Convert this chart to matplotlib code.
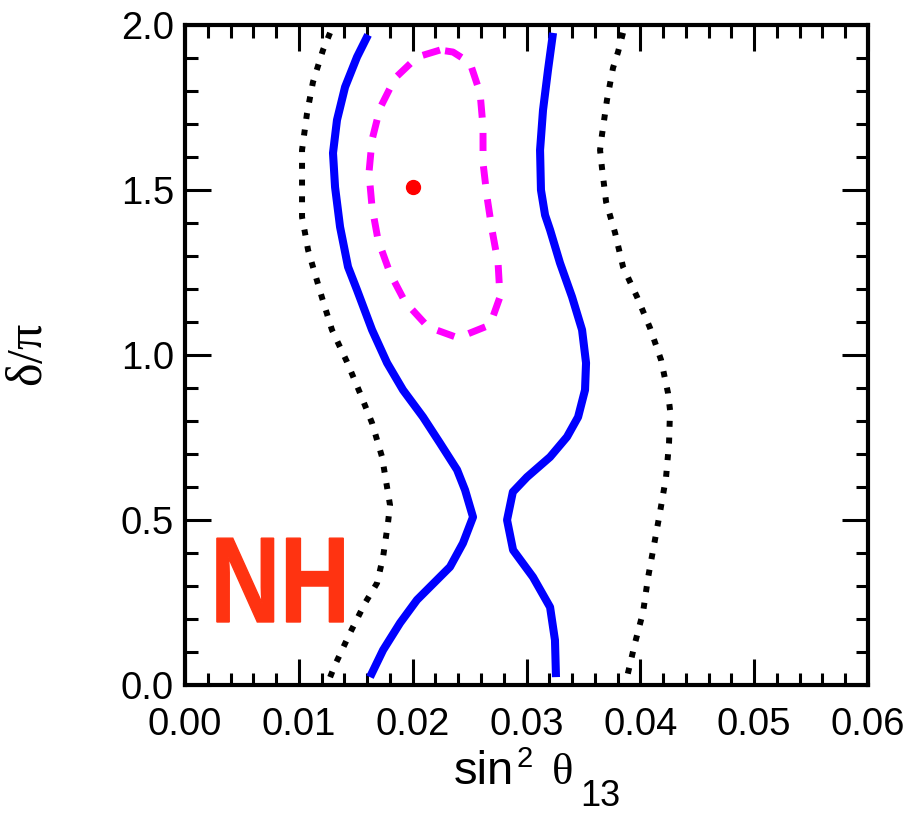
import matplotlib
matplotlib.use("Agg")
import matplotlib.pyplot as plt
from matplotlib.ticker import MultipleLocator
from matplotlib.textpath import TextPath
from matplotlib.patches import PathPatch
from matplotlib.font_manager import FontProperties
from matplotlib.transforms import Affine2D

plt.rcParams['font.family'] = ['Liberation Sans', 'DejaVu Sans']
plt.rcParams['mathtext.fontset'] = 'custom'
plt.rcParams['mathtext.it'] = 'Liberation Serif'
plt.rcParams['mathtext.rm'] = 'Liberation Serif'
plt.rcParams['mathtext.sf'] = 'Liberation Sans'

# 1 sigma (dashed magenta, closed)
mag_x = [0.0224, 0.0204, 0.01845, 0.01713, 0.01643, 0.01616, 0.01643, 0.01696, 0.01801,
         0.01933, 0.02135, 0.02398, 0.02679, 0.02767, 0.0275, 0.02697, 0.02653, 0.02618,
         0.02618, 0.02592, 0.02504, 0.02354, 0.0224]
mag_y = [1.924, 1.903, 1.839, 1.748, 1.652, 1.552, 1.448, 1.348, 1.248,
         1.161, 1.085, 1.052, 1.091, 1.176, 1.279, 1.379, 1.479, 1.582,
         1.691, 1.794, 1.885, 1.918, 1.924]

# 2 sigma (solid blue), left and right branches
blue_l_x = [0.01608, 0.01511, 0.01406, 0.01335, 0.0130, 0.01318, 0.01362, 0.01432, 0.01511,
            0.01643, 0.01775, 0.01915, 0.02091, 0.0224, 0.0239, 0.0246, 0.0253, 0.02442,
            0.02328, 0.02038, 0.01889, 0.0174, 0.01625]
blue_l_y = [1.970, 1.903, 1.812, 1.712, 1.612, 1.509, 1.388, 1.267, 1.197,
            1.076, 0.976, 0.894, 0.812, 0.733, 0.652, 0.591, 0.509, 0.430,
            0.358, 0.258, 0.188, 0.106, 0.024]
blue_r_x = [0.03233, 0.03189, 0.03145, 0.03119, 0.03127, 0.03163, 0.03207, 0.03294, 0.034,
            0.03488, 0.03523, 0.03514, 0.03453, 0.03356, 0.03207, 0.03004, 0.0288, 0.02829,
            0.02882, 0.03057, 0.03207, 0.0325, 0.03259]
blue_r_y = [1.976, 1.864, 1.742, 1.621, 1.5, 1.424, 1.379, 1.279, 1.176,
            1.076, 0.976, 0.894, 0.812, 0.752, 0.691, 0.630, 0.585, 0.5,
            0.409, 0.327, 0.236, 0.136, 0.024]

# 3 sigma (dotted black), left and right branches
dot_l_x = [0.01274, 0.01212, 0.01124, 0.01072, 0.01028, 0.01028, 0.01028, 0.01054, 0.01081,
           0.01124, 0.01204, 0.01291, 0.01423, 0.01537, 0.01643, 0.01731, 0.01801, 0.01783,
           0.0174, 0.01687, 0.01581, 0.0145, 0.01318, 0.0127]
dot_l_y = [1.976, 1.924, 1.827, 1.733, 1.621, 1.470, 1.418, 1.370, 1.318,
           1.267, 1.173, 1.076, 0.979, 0.885, 0.794, 0.691, 0.545, 0.491,
           0.388, 0.309, 0.248, 0.158, 0.061, 0.02]
dot_r_x = [0.03848, 0.03804, 0.0376, 0.03707, 0.03663, 0.03646, 0.03663, 0.03699, 0.03778,
           0.03848, 0.03971, 0.04085, 0.04182, 0.04243, 0.04261, 0.04252, 0.04226, 0.04173,
           0.0412, 0.04067, 0.04024, 0.03953, 0.03883]
dot_r_y = [1.976, 1.918, 1.870, 1.773, 1.667, 1.621, 1.567, 1.464, 1.370,
           1.267, 1.176, 1.082, 0.985, 0.885, 0.833, 0.733, 0.630, 0.524,
           0.424, 0.324, 0.221, 0.127, 0.024]

best_fit = (0.0200, 1.51)

xticks = [0.00, 0.01, 0.02, 0.03, 0.04, 0.05, 0.06]
xticklabels = ["0.00", "0.01", "0.02", "0.03", "0.04", "0.05", "0.06"]
yticks = [0.0, 0.5, 1.0, 1.5, 2.0]
yticklabels = ["0.0", "0.5", "1.0", "1.5", "2.0"]

hierarchy_label = "NH"
hierarchy_box = (0.0028, 0.0139, 0.191, 0.445)  # x0, x1, y0, y1 in data units

fig = plt.figure(figsize=(9.11, 8.16), dpi=100)
ax = fig.add_axes([0.2031, 0.1605, 0.7497, 0.8089])

ax.plot(dot_l_x, dot_l_y, color='black', lw=4.3, linestyle=(0, (1, 1.8)), dash_capstyle='butt')
ax.plot(dot_r_x, dot_r_y, color='black', lw=4.3, linestyle=(0, (1, 1.8)), dash_capstyle='butt')
ax.plot(blue_l_x, blue_l_y, color='#0000FF', lw=5.8, solid_joinstyle='round', solid_capstyle='butt')
ax.plot(blue_r_x, blue_r_y, color='#0000FF', lw=5.8, solid_joinstyle='round', solid_capstyle='butt')
ax.plot(mag_x, mag_y, color='#FF00FF', lw=5.0, linestyle=(0, (2.6, 2.2)), dash_capstyle='butt')
ax.plot([best_fit[0]], [best_fit[1]], 'o', color='#FF0000', markersize=10)

ax.set_xlim(0, 0.06)
ax.set_ylim(0, 2.0)

# condensed "NH" label fitted to its box
tp = TextPath((0, 0), hierarchy_label, size=100,
              prop=FontProperties(family='Liberation Sans', weight='bold'))
ext = tp.get_extents()
x0, x1, y0, y1 = hierarchy_box
tr = (Affine2D().translate(-ext.x0, -ext.y0)
      .scale((x1 - x0) / ext.width, (y1 - y0) / ext.height)
      .translate(x0, y0))
ax.add_patch(PathPatch(tr.transform_path(tp), facecolor='#FF3311',
                       edgecolor='#FF3311', lw=1.0, transform=ax.transData))

ax.set_xticks(xticks)
ax.set_xticklabels(xticklabels)
ax.set_yticks(yticks)
ax.set_yticklabels(yticklabels)
ax.xaxis.set_minor_locator(MultipleLocator(0.002))
ax.yaxis.set_minor_locator(MultipleLocator(0.1))
ax.tick_params(which='both', direction='in', top=True, right=True, width=2.2, colors='black')
ax.tick_params(which='major', length=19, labelsize=27.5)
ax.tick_params(axis='x', which='major', pad=16)
ax.tick_params(axis='y', which='major', pad=8)
ax.tick_params(which='minor', length=9)
for s in ax.spines.values():
    s.set_linewidth(3.0)

# y label
ax.set_ylabel('$\\delta/\\pi$', fontsize=36)
ax.yaxis.set_label_coords(-0.195, 0.5)

# x label: sin^2 theta_13 composed of pieces
W, H = 911.0, 816.0
fig.text(454 / W, 1 - 784 / H, "sin", fontsize=34, ha='left', va='baseline')
fig.text(517 / W, 1 - 767 / H, "2", fontsize=21, ha='left', va='baseline')
fig.text(552 / W, 1 - 784 / H, "θ", fontsize=32, ha='left', va='baseline',
         family=['Liberation Serif', 'DejaVu Serif'])
fig.text(580 / W, 1 - 806 / H, "13", fontsize=26, ha='left', va='baseline')

fig.savefig("out.png", dpi=100)
